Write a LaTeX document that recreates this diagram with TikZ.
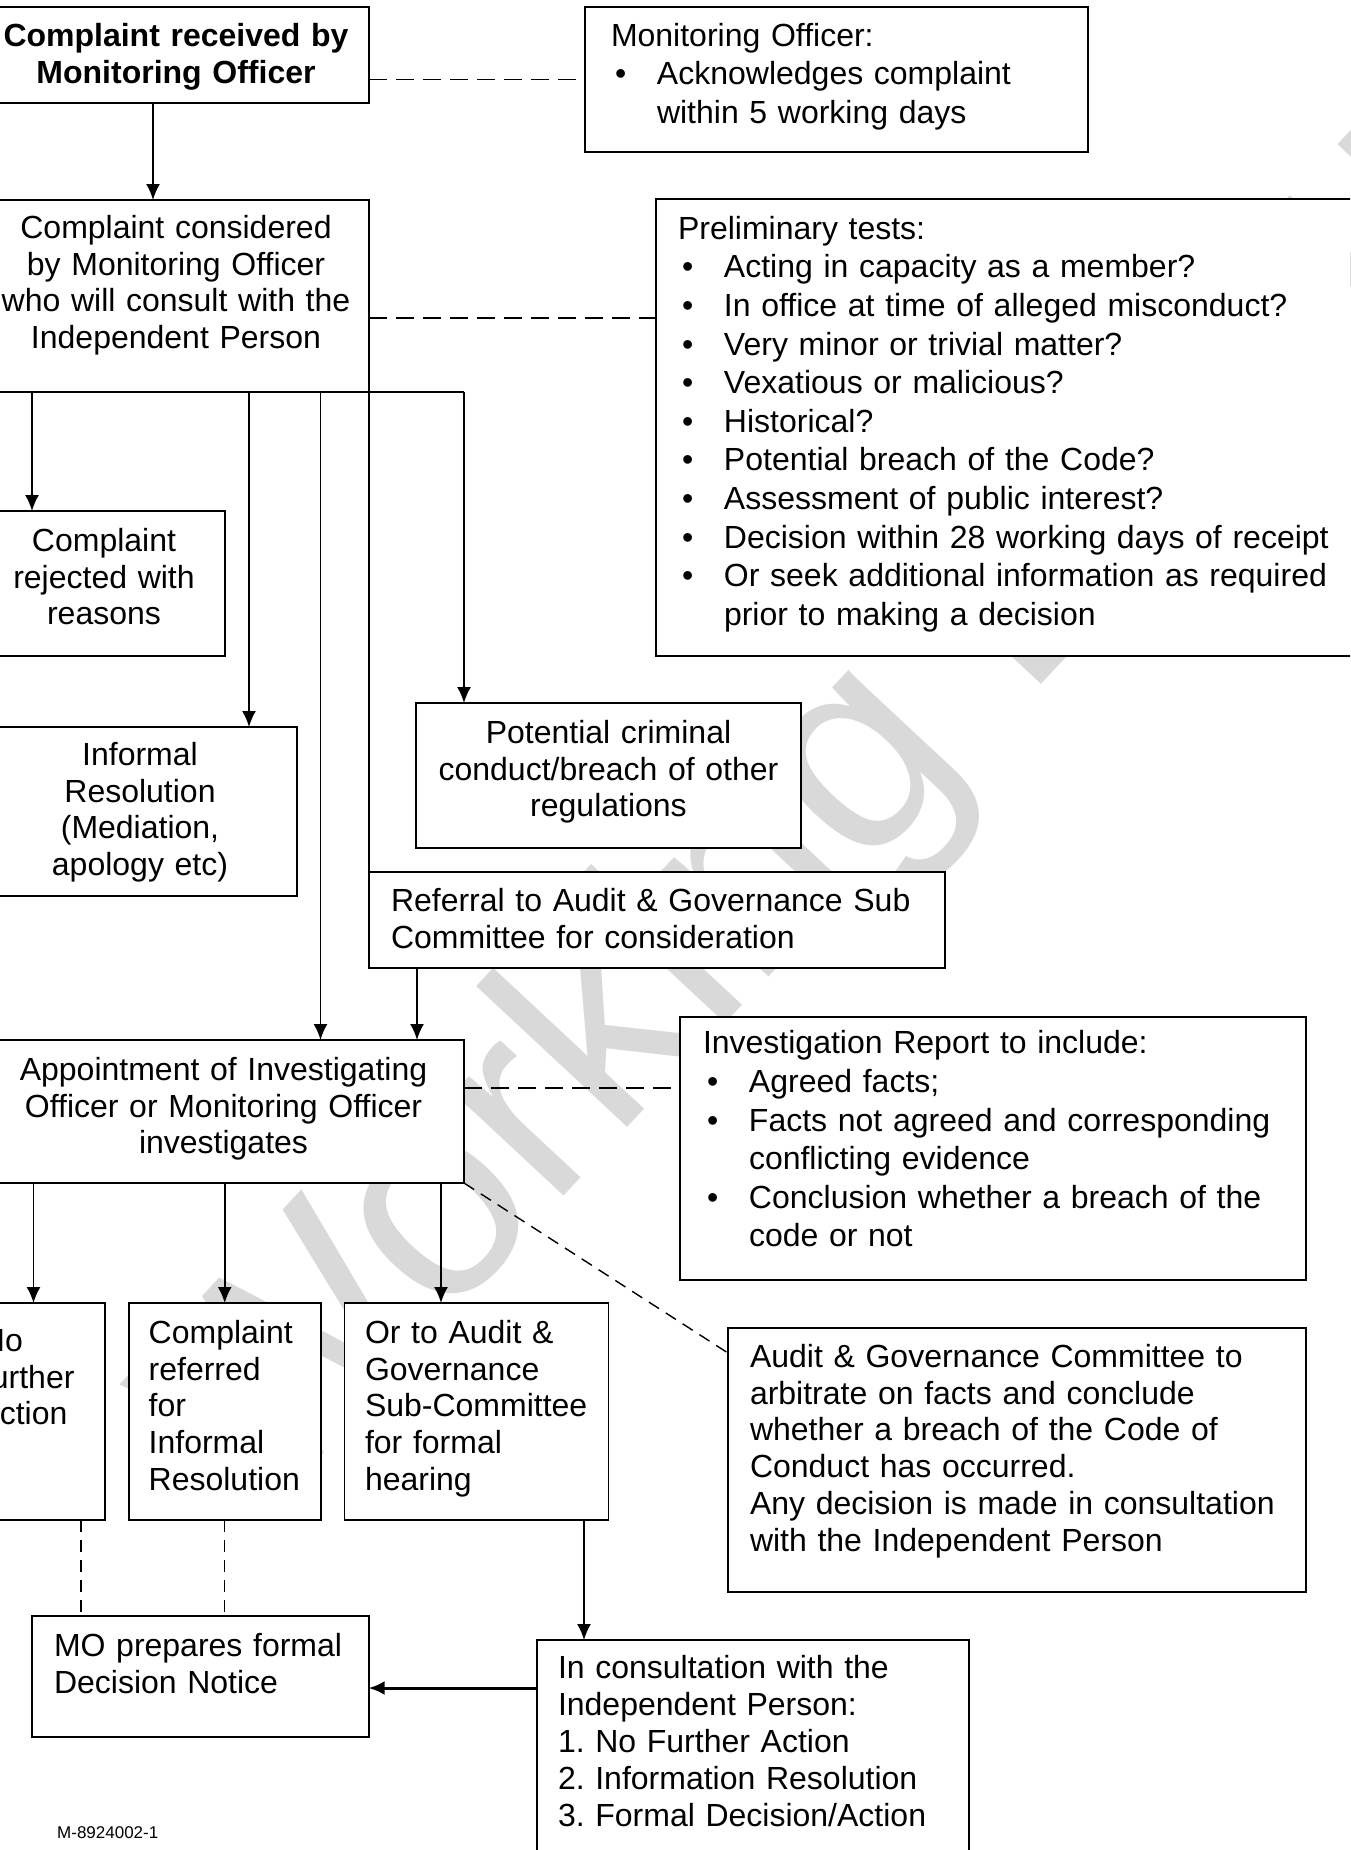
\documentclass[tikz,border=0pt]{standalone}
\usepackage{fontspec}
\setmainfont{Liberation Sans}
\usetikzlibrary{positioning,calc,arrows.meta}
\frenchspacing

% bullet lists as two-column tables
\newenvironment{blist}[1]{\begin{tabular}[t]{@{\hspace{4pt}}p{42pt}@{}l@{}}\multicolumn{2}{@{}l@{}}{#1}\\}{\end{tabular}}
\newcommand{\bl}{\textbullet}

\tikzset{
  box/.style={draw, line width=1.8pt, fill=white, shape=rectangle, anchor=north west, outer sep=0pt, inner ysep=0pt, font=\fontsize{32}{36.8}\selectfont},
  listbox/.style={box, align=left, font=\fontsize{32}{38.6}\selectfont},
  flow/.style={line width=1.8pt, -{Latex[length=16pt, width=14pt]}},
  link/.style={line width=1.4pt, dash pattern=#1},
  link/.default={on 18pt off 9pt},
}

\begin{document}
\begin{tikzpicture}[x=1pt, y=-1pt]
    \useasboundingbox (0,0) rectangle (1350,1850);
    \clip (0,0) rectangle (1350,1850);
    % watermark
    \node[rotate=47, anchor=base west, inner sep=0pt, text=black!15, font=\fontsize{285}{285}\selectfont] (wm) at (262,1520) {Working Document};

    \node[box, align=center, text width=370pt, inner xsep=8pt, text height=39.3pt, text depth=56.7pt, font={\fontsize{32}{36.8}\selectfont\bfseries}] (recv) at (-17,7) {Complaint received by\\Monitoring Officer};
    \node[listbox, text width=451pt, inner xsep=26pt, text height=39pt, text depth=106pt] (ackn) at (585,7) {\begin{blist}{Monitoring Officer:}
        \bl & Acknowledges complaint\\
            & within 5 working days
      \end{blist}};
    \node[box, align=center, text width=370pt, inner xsep=8pt, text height=38.3pt, text depth=153.7pt] (consid) at (-17,200) {Complaint considered\\by Monitoring Officer\\who will consult with the\\Independent Person};
    \node[listbox, text width=662pt, inner xsep=22pt, text height=40.3pt, text depth=416.7pt] (prelim) at (656,199) {\begin{blist}{Preliminary tests:}
        \bl & Acting in capacity as a member?\\
        \bl & In office at time of alleged misconduct?\\
        \bl & Very minor or trivial matter?\\
        \bl & Vexatious or malicious?\\
        \bl & Historical?\\
        \bl & Potential breach of the Code?\\
        \bl & Assessment of public interest?\\
        \bl & Decision within 28 working days of receipt\\
        \bl & Or seek additional information as required\\
            & prior to making a decision
      \end{blist}};
    \node[box, align=center, text width=226pt, inner xsep=8pt, text height=40.3pt, text depth=104.7pt] (reject) at (-17,511) {Complaint\\rejected with\\reasons};
    \node[box, align=center, text width=298pt, inner xsep=8pt, text height=38.3pt, text depth=130.7pt] (informal) at (-17,727) {Informal\\Resolution\\(Mediation,\\apology etc)};
    \node[box, align=center, text width=369pt, inner xsep=8pt, text height=40.3pt, text depth=104.7pt] (potential) at (416,703) {Potential criminal\\conduct/breach of other\\regulations};
    \node[box, align=left, text width=532pt, inner xsep=22pt, text height=39.3pt, text depth=56.7pt] (referral) at (369,872) {Referral to Audit \& Governance Sub\\Committee for consideration};
    \node[box, align=center, text width=465pt, inner xsep=8pt, text height=40.3pt, text depth=102.7pt] (appoint) at (-17,1040) {Appointment of Investigating\\Officer or Monitoring Officer\\investigates};
    \node[listbox, text width=580pt, inner xsep=23pt, text height=36.8pt, text depth=226.2pt] (invest) at (680,1017) {\begin{blist}{Investigation Report to include:}
        \bl & Agreed facts;\\
        \bl & Facts not agreed and corresponding\\
            & conflicting evidence\\
        \bl & Conclusion whether a breach of the\\
            & code or not
      \end{blist}};
    \node[box, align=left, text width=152pt, inner xsep=20pt, text height=40.3pt, text depth=176.7pt] (refinf) at (128.7,1303) {Complaint\\referred\\for\\Informal\\Resolution};
    \node[box, align=left, text width=103pt, inner xsep=20pt, text height=48.3pt, text depth=168.7pt] (nfa) [left=23.7pt of refinf] {No\\further\\action};
    \node[box, align=left, text width=223pt, inner xsep=20.5pt, text height=40.3pt, text depth=176.7pt] (hearing) [right=23.8pt of refinf] {Or to Audit \&\\Governance\\\mbox{Sub-Committee}\\for formal\\hearing};
    \node[box, align=left, text width=534pt, inner xsep=22pt, text height=39.3pt, text depth=224.7pt] (audit) at (728,1328) {Audit \& Governance Committee to\\arbitrate on facts and conclude\\whether a breach of the Code of\\Conduct has occurred.\\Any decision is made in consultation\\with the Independent Person};
    \node[box, align=left, text width=292.6pt, inner xsep=22pt, text height=40.3pt, text depth=80.7pt] (mo) at (32,1616) {MO prepares formal\\Decision Notice};
    \node[box, align=left, text width=390pt, inner xsep=21pt, text height=38.3pt, text depth=201.7pt, font=\fontsize{32}{37}\selectfont] (consult) at (537,1640) {In consultation with the\\Independent Person:\\1. No Further Action\\2. Information Resolution\\3. Formal Decision/Action};
    \node[anchor=west, inner sep=0pt, font=\fontsize{17}{20}\selectfont] (docref) at (57,1833) {M-8924002-1};

    % junction points
    \coordinate (r1) at ([xshift=-23pt]recv.south);
    \coordinate (b1) at ([xshift=49pt]consid.south west);
    \coordinate (b2) at ([xshift=266pt]consid.south west);
    \coordinate (b3) at ([xshift=337.5pt]consid.south west);
    \coordinate (b4) at ([xshift=95pt]consid.south east);
    \coordinate (f1) at ([xshift=48pt]referral.south west);
    \coordinate (h1) at ([xshift=96.5pt]hearing.north west);
    \coordinate (h2) at ([xshift=-24.5pt]hearing.south east);
    \coordinate (d1) at ([xshift=47.5pt]nfa.south);
    \coordinate (c1) at ([yshift=-48pt]consult.north west);
    \coordinate (p1) at ([yshift=-22pt]consid.east);
    \coordinate (a1) at ([yshift=-48pt]appoint.north east);

    \draw[flow] (r1) -- (r1 |- consid.north);
    \draw[line width=1.8pt] (consid.south east) -- (b4);
    \draw[flow] (b1) -- (b1 |- reject.north);
    \draw[flow] (b2) -- (b2 |- informal.north);
    \draw[flow] (b3) -- (b3 |- appoint.north);
    \draw[flow] (b4) -- (b4 |- potential.north);
    \draw[line width=1.8pt] (consid.south east) -- (referral.north west);
    \draw[flow] (f1) -- (f1 |- appoint.north);
    \draw[flow] (appoint.south -| nfa.north) -- (nfa.north);
    \draw[flow] (appoint.south -| refinf.north) -- (refinf.north);
    \draw[flow] (h1 |- appoint.south) -- (h1);
    \draw[flow] (h2) -- (h2 |- consult.north);
    \draw[line width=3pt, -{Latex[length=16pt, width=14pt]}] (c1) -- (c1 -| mo.east);

    \draw[link] (ackn.west -| recv.east) -- (ackn.west);
    \draw[link] (p1) -- (p1 -| prelim.west);
    \draw[link] (a1) -- (a1 -| invest.west);
    \draw[link={on 12pt off 8pt}] (appoint.south east) -- ([yshift=-25pt]audit.north west);
    \draw[link={on 12pt off 8pt}] (d1) -- (d1 |- mo.north);
    \draw[link={on 12pt off 8pt}] (refinf.south) -- (refinf.south |- mo.north);
\end{tikzpicture}
\end{document}
